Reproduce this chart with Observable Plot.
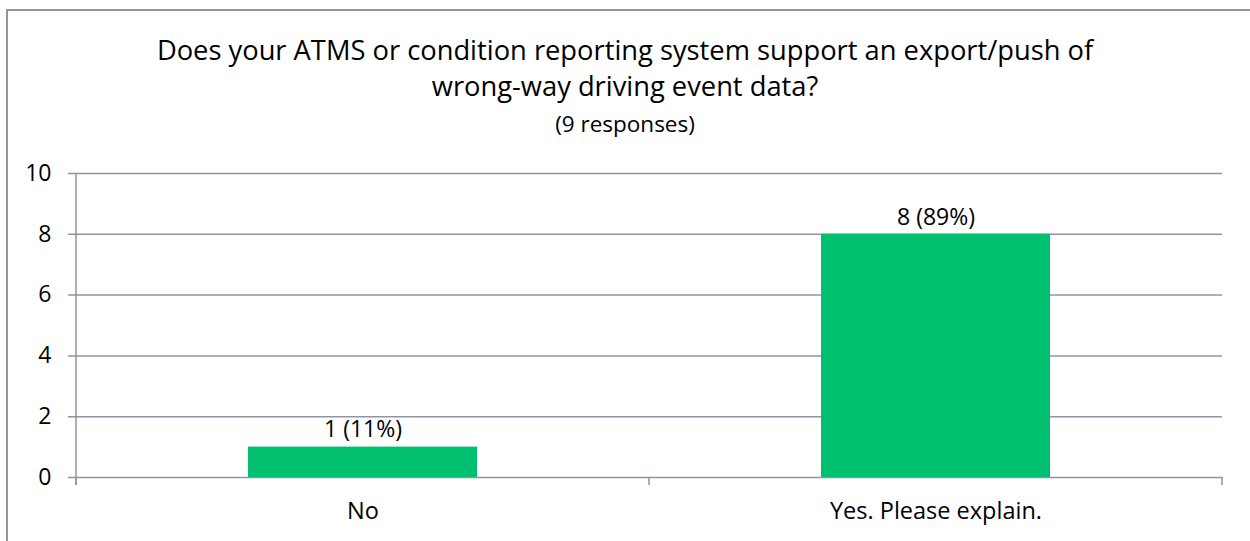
<!DOCTYPE html>
<html>
<head>
<meta charset="utf-8">
<script src="https://cdn.jsdelivr.net/npm/d3@7"></script>
<script src="https://cdn.jsdelivr.net/npm/@observablehq/plot@0.6"></script>
<style>
  html, body { margin: 0; padding: 0; background: #fff; }
  #chart { position: relative; width: 1250px; height: 541px; overflow: hidden;
           font-family: "Open Sans", sans-serif; color: #000; }
  #border { position: absolute; left: 6px; top: 9px; width: 1400px; height: 700px;
            border-left: 2px solid #8e95a4; border-top: 2px solid #8e95a4; }
  #title { position: absolute; left: 0; top: 32px; width: 1250px; text-align: center;
           font-size: 27.3px; line-height: 36px; }
  #subtitle { position: absolute; left: 0; top: 111px; width: 1250px; text-align: center;
              font-size: 22.5px; line-height: 26px; }
  #plot { position: absolute; left: 0; top: 140px; }
</style>
</head>
<body>
<div id="chart">
  <div id="border"></div>
  <div id="title">Does your ATMS or condition reporting system support an export/push of<br>wrong-way driving event data?</div>
  <div id="subtitle">(9 responses)</div>
  <div id="plot"></div>
</div>
<script>
// Survey answers and response counts
const answers = ["No", "Yes. Please explain."];
const counts = [1, 8];
const labels = ["1 (11%)", "8 (89%)"];
const yTicks = [0, 2, 4, 6, 8, 10];

const rows = answers.map((a, i) => ({answer: a, count: counts[i], label: labels[i]}));

const axisColor = "#8e95a4";
const barColor = "#00bf6f";

// Left axis line (extended below zero) and category boundary ticks on the x axis
function frameLines(index, scales, values, dimensions) {
  const {x} = scales;
  const {height, marginLeft, marginTop, marginBottom} = dimensions;
  const y0 = height - marginBottom;
  const g = d3.create("svg:g").attr("stroke", axisColor).attr("stroke-width", 1.5);
  g.append("line")
    .attr("x1", marginLeft).attr("x2", marginLeft)
    .attr("y1", marginTop).attr("y2", y0 + 8);
  const gap = (x.step() - x.bandwidth()) / 2;
  const bounds = [x(answers[0]) - gap];
  answers.forEach(a => bounds.push(x(a) + x.bandwidth() + gap));
  bounds.forEach(b => {
    g.append("line").attr("x1", b).attr("x2", b).attr("y1", y0).attr("y2", y0 + 8);
  });
  return g.node();
}

const chart = Plot.plot({
  width: 1250,
  height: 401,
  marginLeft: 76,
  marginRight: 28,
  marginTop: 33,
  marginBottom: 64,
  style: {fontFamily: "Open Sans, sans-serif", background: "transparent", color: "#000"},
  x: {domain: answers, paddingInner: 0.6, paddingOuter: 0.3, label: null},
  y: {domain: [0, 10], label: null},
  marks: [
    Plot.ruleY(yTicks, {stroke: axisColor, strokeWidth: 1.5, insetLeft: -8}),
    Plot.barY(rows, {x: "answer", y: "count", fill: barColor}),
    Plot.text(rows, {x: "answer", y: "count", text: "label", dy: -17, fontSize: 23, fill: "#000"}),
    Plot.axisY(yTicks, {tickSize: 0, tickPadding: 25, fontSize: 23, fill: "#000"}),
    Plot.axisX({tickSize: 0, tickPadding: 25, fontSize: 23.5, fill: "#000"}),
    frameLines
  ]
});
document.getElementById("plot").appendChild(chart);
</script>
</body>
</html>
